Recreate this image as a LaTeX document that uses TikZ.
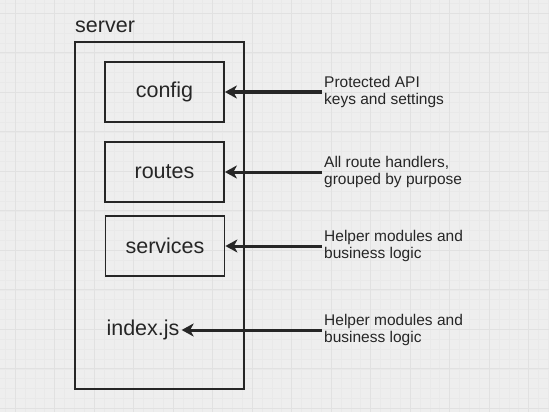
\documentclass[tikz,border=0pt]{standalone}
\usepackage{fontspec}
\setmainfont{Liberation Sans}
\usetikzlibrary{arrows.meta}
\definecolor{ink}{HTML}{262626}
\definecolor{paper}{HTML}{EEEEEE}
\definecolor{minorgrid}{HTML}{E9E9E9}
\definecolor{majorgrid}{HTML}{E1E1E1}
\begin{document}
\begin{tikzpicture}[x=1pt,y=-1pt,
    box/.style={draw=ink,line width=1.8pt,minimum width=119pt,minimum height=60pt,inner sep=0pt,text=ink,font=\fontsize{21.5}{24}\selectfont},
    note/.style={anchor=west,align=left,inner sep=2pt,text=ink,font=\fontsize{15.5}{17.5}\selectfont},
    ptr/.style={draw=ink,line width=3pt,-{Stealth[length=12pt,width=13pt,inset=3.5pt]}}]
  \useasboundingbox (0,0) rectangle (549,412);
  \fill[paper] (0,0) rectangle (549,412);
  \begin{scope}
    \clip (0,0) rectangle (549,412);
    \foreach \k in {0,...,55} {
      \draw[minorgrid,line width=0.4pt] (5.1+9.875*\k,0) -- (5.1+9.875*\k,412);
      \draw[minorgrid,line width=0.4pt] (0,3.4+9.875*\k) -- (549,3.4+9.875*\k);
    }
    \foreach \k in {0,...,13} {
      \draw[majorgrid,line width=0.7pt] (15+39.5*\k,0) -- (15+39.5*\k,412);
      \draw[majorgrid,line width=0.7pt] (0,13.2+39.5*\k) -- (549,13.2+39.5*\k);
    }
  \end{scope}
  \draw
    (159.5,215.5) node[draw=ink,line width=1.8pt,minimum width=169pt,minimum height=347pt,inner sep=0pt] (server) {}
    (75,33) node[anchor=base west,inner sep=0pt,text=ink,font=\fontsize{21.5}{24}\selectfont] (title) {server}
    (164.5,92) node[box] (config) {config}
    (164.5,172) node[box] (routes) {routes}
    (165,246) node[box] (services) {services}
    (143,330) node[inner sep=2pt,text=ink,font=\fontsize{21.5}{24}\selectfont] (index) {index.js}
    (322,92) node[note] (confignote) {Protected API\\keys and settings}
    (322,172) node[note] (routesnote) {All route handlers,\\grouped by purpose}
    (322,246) node[note] (servicesnote) {Helper modules and\\business logic}
    (322,330) node[note] (indexnote) {Helper modules and\\business logic};
  \draw[ptr] (confignote.west) -- (config.east);
  \draw[ptr] (routesnote.west) -- (routes.east);
  \draw[ptr] (servicesnote.west) -- (services.east);
  \draw[ptr] (indexnote.west) -- (index.east);
\end{tikzpicture}
\end{document}
